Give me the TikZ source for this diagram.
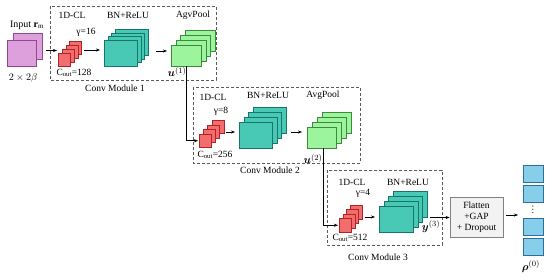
\documentclass[tikz,border=0pt]{standalone}
\usepackage{amsmath,amsfonts}
\usepackage{fontspec}
\setmainfont{Liberation Serif}
\usetikzlibrary{arrows.meta}

\definecolor{pinkfill}{HTML}{DDA0DD}
\definecolor{pinkline}{HTML}{8E4A8E}
\definecolor{redfill}{HTML}{F26D6D}
\definecolor{redline}{HTML}{B02424}
\definecolor{tealfill}{HTML}{48C9B5}
\definecolor{tealline}{HTML}{17756B}
\definecolor{greenfill}{HTML}{9CF59C}
\definecolor{greenline}{HTML}{3C8A3C}
\definecolor{bluefill}{HTML}{87CEEB}
\definecolor{blueline}{HTML}{2E6E9E}

\begin{document}
\begin{tikzpicture}[x=1pt, y=-1pt,
		font=\fontsize{9.5}{11}\selectfont,
		layer/.style={draw, rectangle, inner sep=0pt, anchor=north west, line width=0.5pt},
		inlayer/.style={layer, fill=pinkfill, draw=pinkline, minimum width=29pt, minimum height=26pt},
		redlayer/.style={layer, fill=redfill, draw=redline, minimum width=12pt, minimum height=13pt},
		teallayer/.style={layer, fill=tealfill, draw=tealline, minimum width=33pt, minimum height=26pt},
		greenlayer/.style={layer, fill=greenfill, draw=greenline, minimum width=30pt, minimum height=21pt},
		outcell/.style={layer, fill=bluefill, draw=blueline, minimum width=20pt, minimum height=17pt},
		module/.style={draw=black!65, dashed, dash pattern=on 3pt off 2pt, line width=0.6pt},
		flatbox/.style={draw=black!50, fill=black!5, line width=0.8pt, align=center, minimum width=53pt, minimum height=40pt, inner sep=1pt},
		featlab/.style={font=\fontsize{11}{12}\selectfont, inner sep=1pt},
		arr/.style={-{Stealth[length=4pt,width=3pt]}, line width=0.5pt}]
		\useasboundingbox (0,0) rectangle (550,280);
		%input
		\node[inlayer] (in2) at (13,33) {};
		\node[inlayer] (in1) at (7,40) {};
		\node[font=\fontsize{10}{12}\selectfont] (inlab) at (27,25) {Input $\mathbf{r}_{\mathrm{m}}$};
		\node[font=\fontsize{10}{12}\selectfont] (insize) at (23,78) {$2\times 2\beta$};
		%first module
		\draw[module] (50,6) rectangle (216,80);
		\node (m1lab) at (115,88) {Conv Module 1};
		\node[redlayer] (r1d) at (69.4,41) {};
		\node[redlayer] (r1c) at (65.6,45) {};
		\node[redlayer] (r1b) at (61.8,49) {};
		\node[redlayer] (r1a) at (58,53) {};
		\node[teallayer] (t1d) at (115.1,28.9) {};
		\node[teallayer] (t1c) at (111.4,32.6) {};
		\node[teallayer] (t1b) at (107.7,36.3) {};
		\node[teallayer] (t1a) at (104,40) {};
		\node[greenlayer] (g1d) at (185.1,30) {};
		\node[greenlayer] (g1c) at (180.4,35) {};
		\node[greenlayer] (g1b) at (175.7,40) {};
		\node[greenlayer] (g1a) at (171,45) {};
		\node (cl1) at (72,15) {1D-CL};
		\node (bn1) at (128,15) {BN+ReLU};
		\node (pool1) at (193,15) {AgvPool};
		\node (gam1) at (86,32) {γ=16};
		\node (cout1) at (74,73) {C$_{\mathrm{out}}$=128};
		\node[featlab] (u1) at (177,72) {$\boldsymbol{u}^{(1)}$};
		%second module
		\draw[module] (193,87) rectangle (360,163);
		\node (m2lab) at (270,170) {Conv Module 2};
		\node[redlayer] (r2d) at (211.6,120.5) {};
		\node[redlayer] (r2c) at (207.4,125) {};
		\node[redlayer] (r2b) at (203.2,129.5) {};
		\node[redlayer] (r2a) at (199,134) {};
		\node[teallayer] (t2d) at (252.5,107) {};
		\node[teallayer] (t2c) at (248,112) {};
		\node[teallayer] (t2b) at (243.5,117) {};
		\node[teallayer] (t2a) at (239,122) {};
		\node[greenlayer, minimum width=29pt] (g2d) at (322,112) {};
		\node[greenlayer, minimum width=29pt] (g2c) at (317,117) {};
		\node[greenlayer, minimum width=29pt] (g2b) at (312,122) {};
		\node[greenlayer, minimum width=29pt] (g2a) at (307,127) {};
		\node (cl2) at (213,97) {1D-CL};
		\node (bn2) at (268,95) {BN+ReLU};
		\node (pool2) at (323,95) {AvgPool};
		\node (gam2) at (221,111) {γ=8};
		\node (cout2) at (215,155) {C$_{\mathrm{out}}$=256};
		\node[featlab] (u2) at (313,159) {$\boldsymbol{u}^{(2)}$};
		%third module
		\draw[module] (327,170) rectangle (442,245);
		\node (m3lab) at (378,257) {Conv Module 3};
		\node[redlayer, minimum height=14pt] (r3d) at (349.5,204.8) {};
		\node[redlayer, minimum height=14pt] (r3c) at (346,209.2) {};
		\node[redlayer, minimum height=14pt] (r3b) at (342.5,213.6) {};
		\node[redlayer, minimum height=14pt] (r3a) at (339,218) {};
		\node[teallayer, minimum width=34pt] (t3d) at (393.1,191) {};
		\node[teallayer, minimum width=34pt] (t3c) at (388.4,196) {};
		\node[teallayer, minimum width=34pt] (t3b) at (383.7,201) {};
		\node[teallayer, minimum width=34pt] (t3a) at (379,206) {};
		\node (cl3) at (352,182) {1D-CL};
		\node (bn3) at (408,182) {BN+ReLU};
		\node (gam3) at (363,193) {γ=4};
		\node (cout3) at (350,238) {C$_{\mathrm{out}}$=512};
		\node[featlab] (y3) at (431,227) {$\boldsymbol{y}^{(3)}$};
		%head and output
		\node[flatbox] (fl) at (476.5,217.5) {Flatten\\+GAP\\+ Dropout};
		\node[outcell] (o1) at (523,165) {};
		\node[outcell] (o2) at (523,185) {};
		\node[outcell] (o3) at (523,218) {};
		\node[outcell] (o4) at (523,238) {};
		\node[rotate=90, inner sep=0pt] (odots) at (533,210) {\ldots};
		\node[featlab] (rho) at (531,267) {$\boldsymbol{\rho}^{(0)}$};
		%arrows
		\draw[arr] ([xshift=3pt]in2.east |- 0,50.5) -- ([xshift=-1pt]r1a.west |- 0,50.5);
		\draw[arr] ([xshift=2pt]r1d.east |- 0,50) -- ([xshift=-4pt]t1a.west |- 0,50);
		\draw[arr] ([xshift=7pt]t1d.east |- 0,51) -- ([xshift=-4pt]g1a.west |- 0,51);
		\draw[arr] (g1a.south) -- (g1a.south |- r2a.west) -- ([xshift=-1pt]r2a.west);
		\draw[arr] ([xshift=1.5pt]r2d.east |- 0,132) -- ([xshift=-4pt]t2a.west |- 0,132);
		\draw[arr] ([xshift=5pt]t2d.east |- 0,132) -- ([xshift=-5pt]g2a.west |- 0,132);
		\draw[arr] ([xshift=1.5pt]g2a.south) -- ([xshift=1.5pt]g2a.south |- r3a.west) -- ([xshift=-1pt]r3a.west);
		\draw[arr] ([xshift=2.5pt]r3d.east |- 0,217) -- ([xshift=-4pt]t3a.west |- 0,217);
		\draw[arr] ([xshift=2pt]t3d.east |- fl.west) -- (fl.west);
		\draw[arr] ([xshift=3pt]fl.east |- 0,215) -- ([xshift=-5pt]o3.west |- 0,215);
	\end{tikzpicture}
\end{document}
